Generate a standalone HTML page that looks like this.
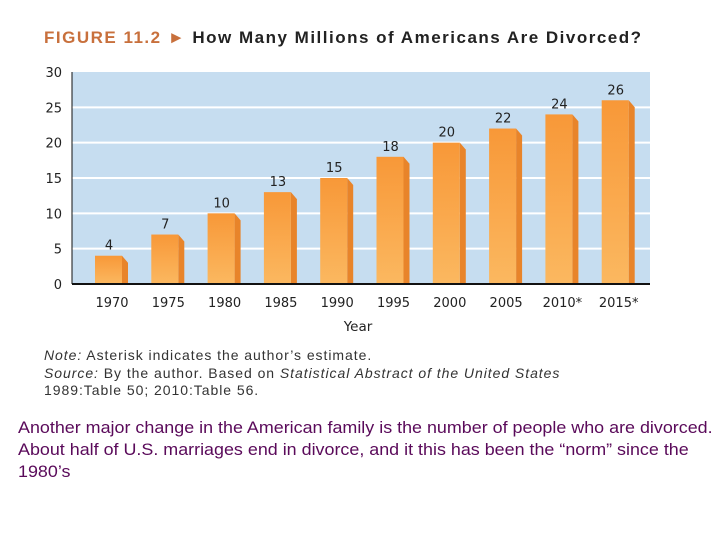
<!DOCTYPE html>
<html><head><meta charset="utf-8"><style>
body{margin:0;width:720px;height:540px;background:#fff;overflow:hidden;position:relative;font-family:"Liberation Sans",sans-serif}
.t{position:absolute;white-space:nowrap}
</style></head><body>
<div class="t" style="left:44px;top:28px;font-size:17px;letter-spacing:1.5px;font-weight:bold;color:#222"><span style="color:#c8703c">FIGURE 11.2 ►</span> How Many Millions of Americans Are Divorced?</div>
<svg id="c" width="720" height="340" style="position:absolute;left:0;top:0">
<defs>
<linearGradient id="g" x1="0" y1="0" x2="0" y2="1"><stop offset="0" stop-color="#f89838"/><stop offset="1" stop-color="#fbb860"/></linearGradient>
</defs>
</svg>
<div class="t" style="left:44px;top:347px;font-size:14px;letter-spacing:0.95px;color:#333;line-height:17.5px"><i>Note:</i> Asterisk indicates the author’s estimate.<br><i>Source:</i> By the author. Based on <i>Statistical Abstract of the United States</i><br>1989:Table 50; 2010:Table 56.</div>
<div class="t" style="left:18px;top:417px;font-size:16.5px;color:#5a0a5a;line-height:22px;transform:scaleX(1.085);transform-origin:0 0">Another major change in the American family is the number of people who are divorced.<br>About half of U.S. marriages end in divorce, and it this has been the “norm” since the<br>1980’s</div>
<script>
const categories=["1970","1975","1980","1985","1990","1995","2000","2005","2010*","2015*"];
const values=[4,7,10,13,15,18,20,22,24,26];
const yTicks=[0,5,10,15,20,25,30];
const NS="http://www.w3.org/2000/svg",svg=document.getElementById('c');
const L=72,R=650,T=72,B=284;
const y=v=>B-(v/30)*(B-T);
const x=i=>109+i*56.3;
function mk(t,a){const e=document.createElementNS(NS,t);for(const k in a)e.setAttribute(k,a[k]);svg.appendChild(e);return e;}
let bg=mk('rect',{x:L,y:T,width:R-L,height:B-T,fill:'#c6ddf0'});


yTicks.forEach(v=>{
 if(v>0&&v<30){let g=mk('line',{x1:L,x2:R,y1:y(v),y2:y(v),stroke:'#fff','stroke-width':2});
 
 }
 let t=mk('text',{x:62,y:y(v)+5,'text-anchor':'end','font-size':13,fill:'#222','font-family':'DejaVu Sans, sans-serif'});
 t.textContent=v;
 
 
});
values.forEach((v,i)=>{
 const cx=x(i),l=cx-14,w=27,top=y(v);
 let s=mk('polygon',{points:`${l+w},${top} ${l+w+6},${top+7} ${l+w+6},${B} ${l+w},${B}`,fill:'#e8842a'});
 
 
 let r=mk('rect',{x:l,y:top,width:w,height:B-top,fill:'url(#g)'});
 
 
 let t=mk('text',{x:cx,y:top-6,'text-anchor':'middle','font-size':13,fill:'#222','font-family':'DejaVu Sans, sans-serif'});
 t.textContent=v;
 
 
 let c=mk('text',{x:cx+3,y:307,'text-anchor':'middle','font-size':13,fill:'#222','font-family':'DejaVu Sans, sans-serif'});
 c.textContent=categories[i];
 
 
});
let ax=mk('line',{x1:L,x2:R,y1:B,y2:B,stroke:'#111','stroke-width':2});


let ay=mk('line',{x1:L,x2:L,y1:T,y2:B,stroke:'#111','stroke-width':1});


let xt=mk('text',{x:358,y:331,'text-anchor':'middle','font-size':13.5,fill:'#222','font-family':'DejaVu Sans, sans-serif'});
xt.textContent='Year';


</script>
</body></html>
